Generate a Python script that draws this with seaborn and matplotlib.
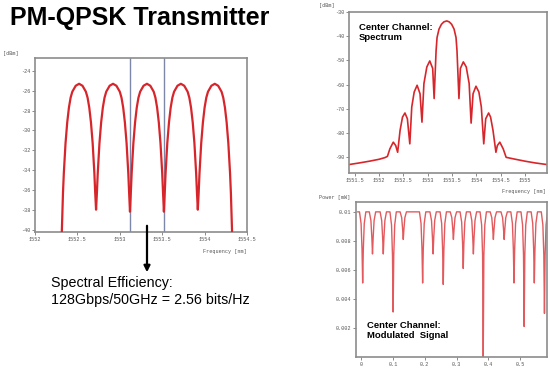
import matplotlib
matplotlib.use('Agg')
import matplotlib.pyplot as plt
import seaborn as sns

# --- panel izquierdo: espectro WDM (5 canales) ---
wdm_nm = [1552.31, 1552.33, 1552.34, 1552.36, 1552.38, 1552.40, 1552.42, 1552.44, 1552.48,
          1552.52, 1552.56, 1552.60, 1552.62, 1552.64, 1552.66, 1552.68, 1552.70, 1552.71, 1552.72,
          1552.73, 1552.74, 1552.76, 1552.78, 1552.80, 1552.82, 1552.84, 1552.88,
          1552.92, 1552.96, 1553.00, 1553.02, 1553.04, 1553.06, 1553.08, 1553.10, 1553.11, 1553.12,
          1553.13, 1553.14, 1553.16, 1553.18, 1553.20, 1553.22, 1553.24, 1553.28,
          1553.32, 1553.36, 1553.40, 1553.42, 1553.44, 1553.46, 1553.48, 1553.50, 1553.51, 1553.52,
          1553.53, 1553.54, 1553.56, 1553.58, 1553.60, 1553.62, 1553.64, 1553.68,
          1553.72, 1553.76, 1553.80, 1553.82, 1553.84, 1553.86, 1553.88, 1553.90, 1553.91, 1553.92,
          1553.93, 1553.94, 1553.96, 1553.98, 1554.00, 1554.02, 1554.04, 1554.08,
          1554.12, 1554.16, 1554.20, 1554.22, 1554.24, 1554.26, 1554.28, 1554.30, 1554.31, 1554.33]
wdm_dbm = [-42.0, -36.3, -34.3, -31.3, -29.2, -27.7, -26.7, -26.1, -25.5,
           -25.3, -25.5, -26.1, -26.7, -27.7, -29.2, -31.3, -34.3, -36.3, -38.0,
           -36.3, -34.3, -31.3, -29.2, -27.7, -26.7, -26.1, -25.5,
           -25.3, -25.5, -26.1, -26.7, -27.7, -29.2, -31.3, -34.3, -36.3, -38.2,
           -36.3, -34.3, -31.3, -29.2, -27.7, -26.7, -26.1, -25.5,
           -25.3, -25.5, -26.1, -26.7, -27.7, -29.2, -31.3, -34.3, -36.3, -38.2,
           -36.3, -34.3, -31.3, -29.2, -27.7, -26.7, -26.1, -25.5,
           -25.3, -25.5, -26.1, -26.7, -27.7, -29.2, -31.3, -34.3, -36.3, -38.0,
           -36.3, -34.3, -31.3, -29.2, -27.7, -26.7, -26.1, -25.5,
           -25.3, -25.5, -26.1, -26.7, -27.7, -29.2, -31.3, -34.3, -36.3, -42.0]
limites_canal = [1553.12, 1553.52]
wdm_xticks = [1552, 1552.5, 1553, 1553.5, 1554, 1554.5]
wdm_yticks = [-24, -26, -28, -30, -32, -34, -36, -38, -40]

# --- arriba derecha: espectro del canal central ---
cc_nm = [1551.38, 1551.60, 1551.80, 1552.00, 1552.12, 1552.17, 1552.22, 1552.29, 1552.34, 1552.38,
         1552.43, 1552.48, 1552.53, 1552.58, 1552.63, 1552.67, 1552.72, 1552.78, 1552.84, 1552.88,
         1552.92, 1552.98, 1553.04, 1553.10, 1553.13, 1553.17, 1553.19, 1553.23, 1553.28, 1553.33,
         1553.39, 1553.44, 1553.49, 1553.54, 1553.58, 1553.60, 1553.64, 1553.67, 1553.73, 1553.79,
         1553.85, 1553.89, 1553.93, 1553.99, 1554.05, 1554.10, 1554.15, 1554.19, 1554.25, 1554.29,
         1554.34, 1554.40, 1554.43, 1554.48, 1554.55, 1554.61, 1554.80, 1555.00, 1555.20, 1555.45]
cc_dbm = [-93.2, -92.5, -91.8, -91.0, -90.3, -89.8, -86.7, -83.9, -85.3, -88.1,
          -79.0, -73.5, -71.8, -74.2, -84.6, -69.3, -63.1, -60.3, -63.8, -75.6,
          -59.6, -52.7, -50.2, -53.3, -65.8, -46.0, -40.5, -37.0, -35.0, -34.0,
          -33.6, -34.0, -35.0, -37.0, -40.5, -46.0, -65.8, -53.3, -50.6, -52.7,
          -59.6, -76.0, -63.8, -60.7, -63.1, -69.3, -84.6, -74.2, -71.8, -73.5,
          -79.0, -88.1, -85.3, -83.9, -86.7, -90.2, -91.0, -91.8, -92.5, -93.2]
cc_xticks = [1551.5, 1552, 1552.5, 1553, 1553.5, 1554, 1554.5, 1555]
cc_yticks = [-30, -40, -50, -60, -70, -80, -90]

# --- abajo derecha: señal modulada (un renglón por cada caída) ---
sig_ns = [-0.012,
          -0.006, -0.001, 0.002, 0.004, 0.006, 0.009, 0.014,
          0.025, 0.030, 0.033, 0.035, 0.037, 0.040, 0.045,
          0.059, 0.064, 0.067, 0.069, 0.071, 0.074, 0.079,
          0.090, 0.095, 0.098, 0.100, 0.102, 0.105, 0.110,
          0.122, 0.127, 0.130, 0.132, 0.134, 0.137, 0.142,
          0.183, 0.188, 0.191, 0.193, 0.195, 0.198, 0.203,
          0.216, 0.221, 0.224, 0.226, 0.228, 0.231, 0.236,
          0.248, 0.253, 0.256, 0.258, 0.260, 0.263, 0.268,
          0.280, 0.285, 0.288, 0.290, 0.292, 0.295, 0.300,
          0.311, 0.316, 0.319, 0.321, 0.323, 0.326, 0.331,
          0.343, 0.348, 0.351, 0.353, 0.355, 0.358, 0.363,
          0.374, 0.379, 0.382, 0.384, 0.386, 0.389, 0.394,
          0.406, 0.411, 0.414, 0.416, 0.418, 0.421, 0.426,
          0.440, 0.445, 0.448, 0.450, 0.452, 0.455, 0.460,
          0.471, 0.476, 0.479, 0.481, 0.483, 0.486, 0.491,
          0.503, 0.508, 0.511, 0.513, 0.515, 0.518, 0.523,
          0.535, 0.540, 0.543, 0.545, 0.547, 0.550, 0.555,
          0.567, 0.572, 0.575, 0.577, 0.579, 0.582, 0.587]
sig_mw = [0.0100,
          0.0100, 0.0092, 0.0074, 0.0051, 0.0074, 0.0092, 0.0100,
          0.0100, 0.0094, 0.0082, 0.0071, 0.0082, 0.0094, 0.0100,
          0.0100, 0.0094, 0.0082, 0.0071, 0.0082, 0.0094, 0.0100,
          0.0100, 0.0091, 0.0070, 0.0031, 0.0070, 0.0091, 0.0100,
          0.0100, 0.0096, 0.0088, 0.0081, 0.0088, 0.0096, 0.0100,
          0.0100, 0.0092, 0.0074, 0.0051, 0.0074, 0.0092, 0.0100,
          0.0100, 0.0094, 0.0082, 0.0071, 0.0082, 0.0094, 0.0100,
          0.0100, 0.0092, 0.0074, 0.0050, 0.0074, 0.0092, 0.0100,
          0.0100, 0.0096, 0.0088, 0.0081, 0.0088, 0.0096, 0.0100,
          0.0100, 0.0093, 0.0078, 0.0061, 0.0078, 0.0093, 0.0100,
          0.0100, 0.0094, 0.0082, 0.0071, 0.0082, 0.0094, 0.0100,
          0.0100, 0.0091, 0.0070, 0.0000, 0.0070, 0.0091, 0.0100,
          0.0100, 0.0096, 0.0088, 0.0081, 0.0088, 0.0096, 0.0100,
          0.0100, 0.0096, 0.0088, 0.0081, 0.0088, 0.0096, 0.0100,
          0.0100, 0.0092, 0.0074, 0.0051, 0.0074, 0.0092, 0.0100,
          0.0100, 0.0091, 0.0070, 0.0021, 0.0070, 0.0091, 0.0100,
          0.0100, 0.0092, 0.0074, 0.0051, 0.0074, 0.0092, 0.0100,
          0.0100, 0.0091, 0.0070, 0.0030, 0.0070, 0.0091, 0.0100]
sig_xticks = [0, 0.1, 0.2, 0.3, 0.4, 0.5]
sig_yticks = [0.002, 0.004, 0.006, 0.008, 0.01]

ANCHO, ALTO = 550, 368
MONO = 'Liberation Mono'
SANS = ['Liberation Sans', 'DejaVu Sans']


def caja(x0, y0, x1, y1):
    """Rectángulo en píxeles (desde arriba a la izquierda) -> fracción de figura."""
    return [x0 / ANCHO, 1 - y1 / ALTO, (x1 - x0) / ANCHO, (y1 - y0) / ALTO]


def pt(x, y):
    return x / ANCHO, 1 - y / ALTO


def estilo_ejes(ax, xticks, yticks):
    for s in ax.spines.values():
        s.set_color('#8c8c8c')
        s.set_linewidth(1.2)
    ax.set_xticks(xticks)
    ax.set_xticklabels([f'{v:g}' for v in xticks])
    ax.set_yticks(yticks)
    ax.set_yticklabels([f'{v:g}' for v in yticks])
    ax.tick_params(axis='both', which='major', bottom=True, left=True, length=2,
                   width=0.6, color='#777777', labelsize=3.7, labelcolor='#555555',
                   pad=1.5, labelfontfamily=MONO)
    ax.set_xlabel('')
    ax.set_ylabel('')
    ax.grid(False)


sns.set_style('white')
plt.rcParams['font.family'] = SANS
plt.rcParams['axes.unicode_minus'] = False
plt.rcParams['text.color'] = 'black'

fig = plt.figure(figsize=(ANCHO / 100, ALTO / 100), dpi=100)

# panel izquierdo
ax1 = fig.add_axes(caja(35, 58, 247, 232))
for xv in limites_canal:
    ax1.axvline(xv, color='#7d88a8', linewidth=1.0, zorder=1)
sns.lineplot(x=wdm_nm, y=wdm_dbm, ax=ax1, color='#d7262b', linewidth=1.6,
             estimator=None, sort=False, zorder=3)
ax1.set_xlim(1552, 1554.5)
ax1.set_ylim(-40.25, -22.7)
estilo_ejes(ax1, wdm_xticks, wdm_yticks)

# arriba derecha
ax2 = fig.add_axes(caja(349, 12, 547, 173))
sns.lineplot(x=cc_nm, y=cc_dbm, ax=ax2, color='#d7262b', linewidth=1.2,
             estimator=None, sort=False)
ax2.set_xlim(1551.38, 1555.45)
ax2.set_ylim(-96.7, -29.9)
estilo_ejes(ax2, cc_xticks, cc_yticks)
ax2.text(0.05, 0.93, 'Center Channel:\nSpectrum', transform=ax2.transAxes,
         ha='left', va='top', fontsize=6.8, fontweight='bold', linespacing=1.15)

# abajo derecha
ax3 = fig.add_axes(caja(356, 202, 547, 357))
sns.lineplot(x=sig_ns, y=sig_mw, ax=ax3, color='#e25a5e', linewidth=1.0,
             estimator=None, sort=False)
ax3.set_xlim(-0.017, 0.585)
ax3.set_ylim(0, 0.01068)
estilo_ejes(ax3, sig_xticks, sig_yticks)
ax3.text(0.055, 0.235, 'Center Channel:\nModulated  Signal', transform=ax3.transAxes,
         ha='left', va='top', fontsize=6.8, fontweight='bold', linespacing=1.15)

# rótulos de unidades (estilo del software de simulación)
unidad = dict(fontsize=3.7, family=MONO, color='#555555')
fig.text(*pt(11, 54), '[dBm]', ha='center', va='center', **unidad)
fig.text(*pt(247, 252), 'Frequency [nm]', ha='right', va='center', **unidad)
fig.text(*pt(327, 5), '[dBm]', ha='center', va='center', **unidad)
fig.text(*pt(546, 191), 'Frequency [nm]', ha='right', va='center', **unidad)
fig.text(*pt(335, 197), 'Power [mW]', ha='center', va='center', **unidad)

# título y anotación
fig.text(*pt(10, 25), 'PM-QPSK Transmitter', ha='left', va='baseline',
         fontsize=18, fontweight='bold', color='black')
ax1.annotate('', xy=pt(147, 275), xytext=pt(147, 223), xycoords='figure fraction',
             textcoords='figure fraction', annotation_clip=False,
             arrowprops=dict(arrowstyle='-|>', color='black', lw=1.6, mutation_scale=9))
fig.text(*pt(51, 287), 'Spectral Efficiency:', ha='left', va='baseline',
         fontsize=10.3, color='black')
fig.text(*pt(51, 304), '128Gbps/50GHz = 2.56 bits/Hz', ha='left', va='baseline',
         fontsize=10.3, color='black')

fig.savefig('out.png', dpi=100)
